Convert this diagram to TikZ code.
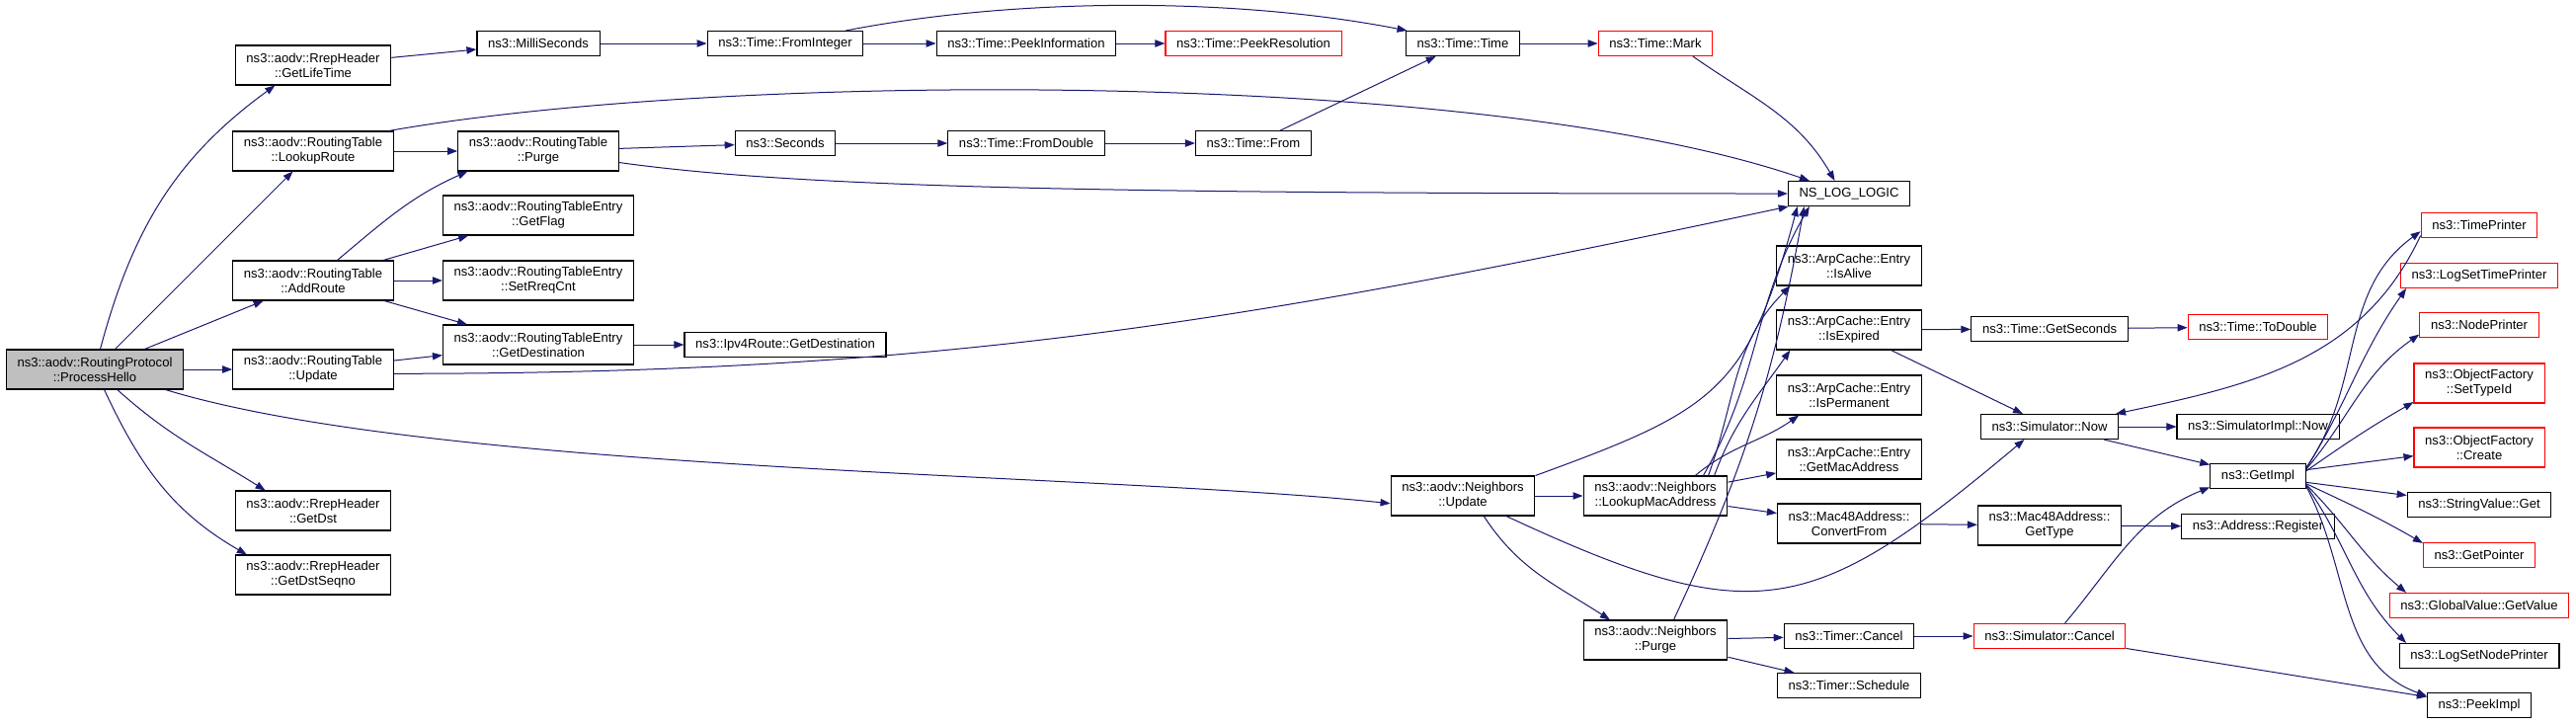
\documentclass[tikz,border=0pt]{standalone}
\usepackage{fontspec}
\setmainfont{Liberation Sans}
\usetikzlibrary{arrows.meta}
\definecolor{callblue}{HTML}{191970}
\definecolor{rootgray}{HTML}{BFBFBF}
\tikzstyle{func} = [rectangle, minimum height=18.75pt, inner xsep=8.4pt, inner ysep=3pt, align=center, draw=black, line width=0.8pt, fill=white, font=\fontsize{9.8pt}{11.25pt}\selectfont]
\tikzstyle{functall} = [func, minimum height=30pt]
\tikzstyle{redfunc} = [func, draw=red]
\tikzstyle{redtall} = [functall, draw=red]
\tikzstyle{rootfunc} = [functall, fill=rootgray]
\tikzstyle{call} = [line width=0.75pt, draw=callblue, ->, >={Triangle[length=7.5pt,width=5.5pt]}]
\begin{document}
\begin{tikzpicture}[x=0.75pt, y=-0.75pt]
			\useasboundingbox (0,0) rectangle (2608,733);
			\node (0) [rootfunc] at (96,374) {ns3::aodv::RoutingProtocol\\::ProcessHello};
			\node (1) [functall] at (317,66) {ns3::aodv::RrepHeader\\::GetLifeTime};
			\node (2) [functall] at (317,153) {ns3::aodv::RoutingTable\\::LookupRoute};
			\node (3) [functall] at (317,284) {ns3::aodv::RoutingTable\\::AddRoute};
			\node (4) [functall] at (317,374) {ns3::aodv::RoutingTable\\::Update};
			\node (5) [functall] at (317,517) {ns3::aodv::RrepHeader\\::GetDst};
			\node (6) [functall] at (317,582) {ns3::aodv::RrepHeader\\::GetDstSeqno};
			\node (7) [func] at (545,44) {ns3::MilliSeconds};
			\node (8) [functall] at (545,153) {ns3::aodv::RoutingTable\\::Purge};
			\node (9) [functall] at (545,218) {ns3::aodv::RoutingTableEntry\\::GetFlag};
			\node (10) [functall] at (545,284) {ns3::aodv::RoutingTableEntry\\::SetRreqCnt};
			\node (11) [functall] at (545,349) {ns3::aodv::RoutingTableEntry\\::GetDestination};
			\node (12) [func] at (795,44) {ns3::Time::FromInteger};
			\node (13) [func] at (795,145) {ns3::Seconds};
			\node (14) [func] at (795,349) {ns3::Ipv4Route::GetDestination};
			\node (15) [func] at (1039,44) {ns3::Time::PeekInformation};
			\node (16) [func] at (1039,145) {ns3::Time::FromDouble};
			\node (17) [redfunc] at (1269,44) {ns3::Time::PeekResolution};
			\node (18) [func] at (1269,145) {ns3::Time::From};
			\node (19) [func] at (1481,44) {ns3::Time::Time};
			\node (20) [functall] at (1481,502) {ns3::aodv::Neighbors\\::Update};
			\node (21) [redfunc] at (1676,44) {ns3::Time::Mark};
			\node (22) [functall] at (1676,502) {ns3::aodv::Neighbors\\::LookupMacAddress};
			\node (23) [functall] at (1676,648) {ns3::aodv::Neighbors\\::Purge};
			\node (24) [func] at (1872,196) {NS\_LOG\_LOGIC};
			\node (25) [functall] at (1872,269) {ns3::ArpCache::Entry\\::IsAlive};
			\node (26) [functall] at (1872,334) {ns3::ArpCache::Entry\\::IsExpired};
			\node (27) [functall] at (1872,400) {ns3::ArpCache::Entry\\::IsPermanent};
			\node (28) [functall] at (1872,465) {ns3::ArpCache::Entry\\::GetMacAddress};
			\node (29) [functall] at (1872,530) {ns3::Mac48Address::\\ConvertFrom};
			\node (30) [func] at (1872,644) {ns3::Timer::Cancel};
			\node (31) [func] at (1872,694) {ns3::Timer::Schedule};
			\node (32) [func] at (2075,333) {ns3::Time::GetSeconds};
			\node (33) [func] at (2075,432) {ns3::Simulator::Now};
			\node (34) [functall] at (2075,532) {ns3::Mac48Address::\\GetType};
			\node (35) [redfunc] at (2075,644) {ns3::Simulator::Cancel};
			\node (36) [redfunc] at (2286,331) {ns3::Time::ToDouble};
			\node (37) [func] at (2286,432) {ns3::SimulatorImpl::Now};
			\node (38) [func] at (2286,482) {ns3::GetImpl};
			\node (39) [func] at (2286,533) {ns3::Address::Register};
			\node (40) [redfunc] at (2510,228) {ns3::TimePrinter};
			\node (41) [redfunc] at (2510,279) {ns3::LogSetTimePrinter};
			\node (42) [redfunc] at (2510,329) {ns3::NodePrinter};
			\node (43) [redtall] at (2510,388) {ns3::ObjectFactory\\::SetTypeId};
			\node (44) [redtall] at (2510,453) {ns3::ObjectFactory\\::Create};
			\node (45) [func] at (2510,511) {ns3::StringValue::Get};
			\node (46) [redfunc] at (2510,562) {ns3::GetPointer};
			\node (47) [redfunc] at (2510,613) {ns3::GlobalValue::GetValue};
			\node (48) [func] at (2510,664) {ns3::LogSetNodePrinter};
			\node (49) [func] at (2510,714) {ns3::PeekImpl};

			\draw [call] (0) to [out=75, in=216] (1.208);
			\draw [call] (0) -- (2);
			\draw [call] (0) -- (3);
			\draw [call] (0) -- (4);
			\draw [call] (0) to [out=-42, in=148] (5.157);
			\draw [call] (0) to [out=-65, in=150] (6.163);
			\draw [call] (0.-16) .. controls +(-17:215pt) and +(174:220pt) .. (20.186);
			\draw [call] (1) -- (7);
			\draw [call] (7) -- (12);
			\draw [call] (12) -- (15);
			\draw [call] (12.12) to [out=11, in=169, looseness=0.8] (19.167);
			\draw [call] (15) -- (17);
			\draw [call] (19) -- (21);
			\draw [call] (21.-19) to [out=-35, in=120] (24.138);
			\draw [call] (2) -- (8);
			\draw [call] (2.15) .. controls +(10:262pt) and +(161:262pt) .. (24.162);
			\draw [call] (8) -- (13);
			\draw [call] (8.-8) .. controls +(-8:138pt) and +(180:519pt) .. (24.west);
			\draw [call] (3.40) to [out=40, in=204] (8.196);
			\draw [call] (3) -- (9);
			\draw [call] (3) -- (10);
			\draw [call] (3) -- (11);
			\draw [call] (4) -- (11);
			\draw [call] (4.-3) .. controls +(0:419pt) and +(192:419pt) .. (24.192);
			\draw [call] (11) -- (14);
			\draw [call] (13) -- (16);
			\draw [call] (16) -- (18);
			\draw [call] (18) -- (19);
			\draw [call] (20.north east) to [out=20, in=255, looseness=1.3] (24.194);
			\draw [call] (20) -- (22);
			\draw [call] (20.-44) to [out=-57, in=147] (23.156);
			\draw [call] (20.-25) to [out=-25, in=220, looseness=1.35] (33.207);
			\draw [call] (22.23) to [out=60, in=240] (24.198);
			\draw [call] (22.21) to [out=70, in=225] (25.199);
			\draw [call] (22.19) to [out=70, in=235] (26.199);
			\draw [call] (22.27) to [out=40, in=215] (27.202);
			\draw [call] (22) -- (28);
			\draw [call] (22) -- (29);
			\draw [call] (23.48) to [out=65, in=260] (24.196);
			\draw [call] (23) -- (30);
			\draw [call] (23) -- (31);
			\draw [call] (26) -- (32);
			\draw [call] (26) -- (33);
			\draw [call] (29) -- (34);
			\draw [call] (30) -- (35);
			\draw [call] (32) -- (36);
			\draw [call] (33) -- (37);
			\draw [call] (33) -- (38);
			\draw [call] (34) -- (39);
			\draw [call] (35.40) to [out=50, in=202] (38.193);
			\draw [call] (35) -- (49);
			\draw [call] (38.10) to [out=55, in=216] (40.186);
			\draw [call] (38.9) to [out=58, in=235] (41.190);
			\draw [call] (38.8) to [out=50, in=215] (42.189);
			\draw [call] (38.6) to [out=35, in=210] (43.196);
			\draw [call] (38) -- (44);
			\draw [call] (38) -- (45);
			\draw [call] (38.-9) to [out=-25, in=150] (46.168);
			\draw [call] (38.-10) to [out=-45, in=140] (47.170);
			\draw [call] (38.-11) to [out=-55, in=135] (48.170);
			\draw [call] (38.-12) to [out=-62, in=160] (49.170);
			\draw [call] (40.190) to [out=245, in=12] (33.11);
		\end{tikzpicture}
\end{document}
